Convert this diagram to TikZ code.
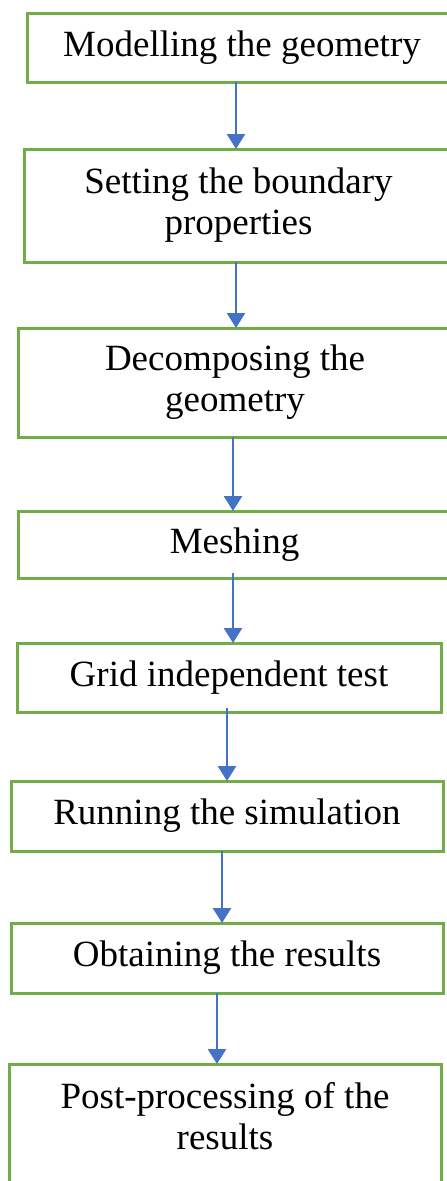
\documentclass[tikz,border=0pt]{standalone}
\usepackage{fontspec}
\setmainfont{Liberation Serif}
\usetikzlibrary{arrows.meta}
\definecolor{boxgreen}{HTML}{70AD47}
\definecolor{arrowblue}{HTML}{4472C4}
\tikzset{
  stepbox/.style={draw=boxgreen, line width=3pt, fill=white, inner sep=0pt,
    outer sep=0pt, align=center, font=\fontsize{37}{41}\selectfont},
  flow/.style={draw=arrowblue, line width=2.6pt,
    -{Triangle[length=15pt,width=18pt]}, fill=arrowblue}
}
\begin{document}
\begin{tikzpicture}[x=1pt,y=-1pt]
\useasboundingbox (0,0) rectangle (447,1181);
\clip (0,0) rectangle (447,1181);
\fill[white] (0,0) rectangle (447,1181);

% process steps
\node[stepbox, minimum width=430pt, minimum height=69pt]  (b1) at (242,47.5)   {Modelling the geometry};
\node[stepbox, minimum width=429pt, minimum height=113pt] (b2) at (238.5,205.5) {Setting the boundary\\properties};
\node[stepbox, minimum width=434pt, minimum height=109pt] (b3) at (235,382.5)  {Decomposing the\\geometry};
\node[stepbox, minimum width=433pt, minimum height=67pt]  (b4) at (234.5,544.5) {Meshing};
\node[stepbox, minimum width=424pt, minimum height=69pt]  (b5) at (229,677.5)  {Grid independent test};
\node[stepbox, minimum width=432pt, minimum height=70pt]  (b6) at (227,816)    {Running the simulation};
\node[stepbox, minimum width=432pt, minimum height=70pt]  (b7) at (227,958)    {Obtaining the results};
\node[stepbox, minimum width=432pt, minimum height=126pt, text depth=22.3pt] (b8) at (225,1127) {Post-processing of the\\results};

% connectors between consecutive steps
\draw[flow] (b1.south -| 236,0) -- (b2.north -| 236,0);
\draw[flow] (b2.south -| 236,0) -- (b3.north -| 236,0);
\draw[flow] (b3.south -| 233,0) -- (b4.north -| 233,0);
\draw[flow] ([yshift=5pt]b4.south -| 233,0) -- (b5.north -| 233,0);
\draw[flow] ([yshift=4pt]b5.south -| 227,0) -- (b6.north -| 227,0);
\draw[flow] (b6.south -| 222,0) -- (b7.north -| 222,0);
\draw[flow] (b7.south -| 217,0) -- (b8.north -| 217,0);
\end{tikzpicture}
\end{document}
